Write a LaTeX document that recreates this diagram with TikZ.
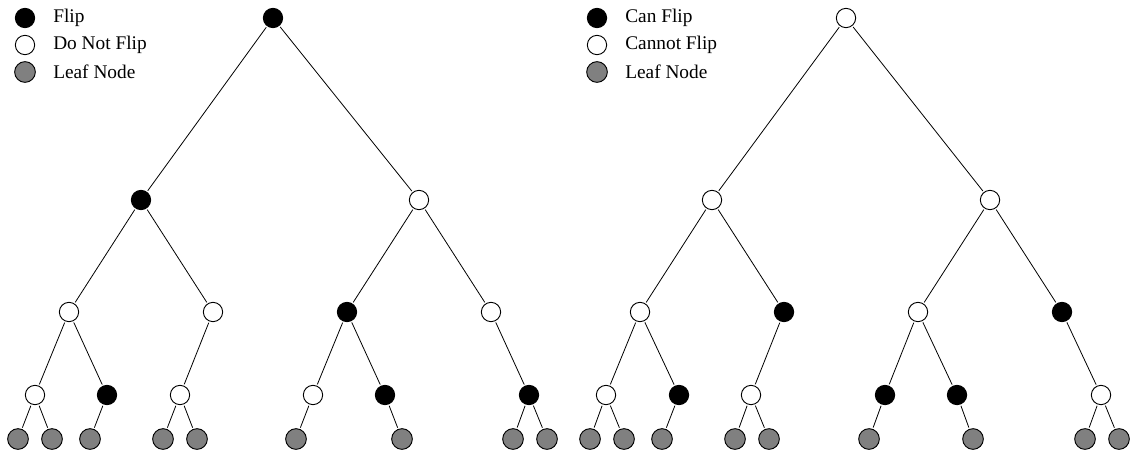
\documentclass[tikz,border=0pt]{standalone}
\usepackage{fontspec}
\setmainfont{Liberation Serif}
\begin{document}
\begin{tikzpicture}[x=0.75pt,y=-0.75pt,
  nd/.style={circle,draw=black,line width=0.7pt,minimum size=14.5pt,inner sep=0pt},
  bk/.style={nd,fill=black},
  wt/.style={nd,fill=white},
  lf/.style={nd,fill=gray,minimum size=15.5pt},
  ed/.style={line width=0.6pt,shorten <=1pt,shorten >=1pt},
  lbl/.style={anchor=west,font=\fontsize{14.5pt}{16pt}\selectfont,inner sep=0pt}]
\useasboundingbox (0,0) rectangle (1134,464);
% legends
\node[bk] (lga) at (25,18) {}; \node[lbl] (lta) at (53,18) {Flip};
\node[wt] (lgb) at (25,45) {}; \node[lbl] (ltb) at (53,45) {Do Not Flip};
\node[lf] (lgc) at (25,72) {}; \node[lbl] (ltc) at (53,72) {Leaf Node};
\node[bk] (rga) at (597,18) {}; \node[lbl] (rta) at (625,18) {Can Flip};
\node[wt] (rgb) at (597,45) {}; \node[lbl] (rtb) at (625,45) {Cannot Flip};
\node[lf] (rgc) at (597,72) {}; \node[lbl] (rtc) at (625,72) {Leaf Node};
% left tree
\node[bk] (L) at (273,18) {};
\node[bk] (L1) at (141,200) {};
\node[wt] (L2) at (419,200) {};
\node[wt] (L11) at (69,312) {};
\node[wt] (L12) at (213,312) {};
\node[bk] (L21) at (347,312) {};
\node[wt] (L22) at (491,312) {};
\node[wt] (La) at (35,395) {};
\node[bk] (Lb) at (107,395) {};
\node[wt] (Lc) at (180,395) {};
\node[wt] (Ld) at (313,395) {};
\node[bk] (Le) at (385,395) {};
\node[bk] (Lf) at (529,395) {};
\node[lf] (Lx1) at (18,439) {};
\node[lf] (Lx2) at (52,439) {};
\node[lf] (Lx3) at (90,439) {};
\node[lf] (Lx4) at (163,439) {};
\node[lf] (Lx5) at (197,439) {};
\node[lf] (Lx6) at (296,439) {};
\node[lf] (Lx7) at (402,439) {};
\node[lf] (Lx8) at (513,439) {};
\node[lf] (Lx9) at (547,439) {};
\foreach \a/\b in {L/L1,L/L2,L1/L11,L1/L12,L2/L21,L2/L22,L11/La,L11/Lb,L12/Lc,L21/Ld,L21/Le,L22/Lf,
  La/Lx1,La/Lx2,Lb/Lx3,Lc/Lx4,Lc/Lx5,Ld/Lx6,Le/Lx7,Lf/Lx8,Lf/Lx9}
  \draw[ed] (\a) -- (\b);
% right tree
\node[wt] (R) at (846,18) {};
\node[wt] (R1) at (712,200) {};
\node[wt] (R2) at (990,200) {};
\node[wt] (R11) at (640,312) {};
\node[bk] (R12) at (784,312) {};
\node[wt] (R21) at (918,312) {};
\node[bk] (R22) at (1062,312) {};
\node[wt] (Ra) at (606,395) {};
\node[bk] (Rb) at (679,395) {};
\node[wt] (Rc) at (751,395) {};
\node[bk] (Rd) at (885,395) {};
\node[bk] (Re) at (957,395) {};
\node[wt] (Rf) at (1101,395) {};
\node[lf] (Rx1) at (590,439) {};
\node[lf] (Rx2) at (624,439) {};
\node[lf] (Rx3) at (662,439) {};
\node[lf] (Rx4) at (735,439) {};
\node[lf] (Rx5) at (769,439) {};
\node[lf] (Rx6) at (869,439) {};
\node[lf] (Rx7) at (973,439) {};
\node[lf] (Rx8) at (1085,439) {};
\node[lf] (Rx9) at (1119,439) {};
\foreach \a/\b in {R/R1,R/R2,R1/R11,R1/R12,R2/R21,R2/R22,R11/Ra,R11/Rb,R12/Rc,R21/Rd,R21/Re,R22/Rf,
  Ra/Rx1,Ra/Rx2,Rb/Rx3,Rc/Rx4,Rc/Rx5,Rd/Rx6,Re/Rx7,Rf/Rx8,Rf/Rx9}
  \draw[ed] (\a) -- (\b);
\end{tikzpicture}
\end{document}
